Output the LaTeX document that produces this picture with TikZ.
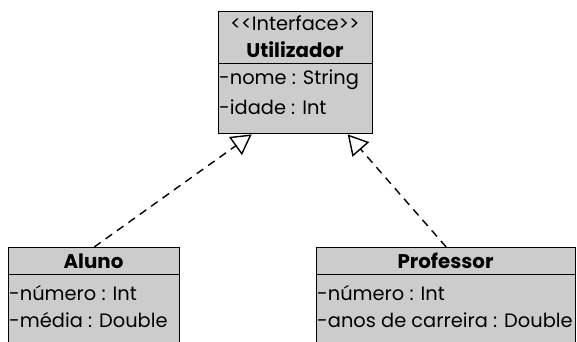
\documentclass[tikz,border=0pt]{standalone}
\usepackage{fontspec}
\setmainfont{Poppins}
\usetikzlibrary{arrows.meta}

\tikzset{
  classbox/.style={draw=black, line width=1.4pt, fill=boxgray, anchor=north west,
    inner sep=0pt, minimum width=#1},
  headtext/.style={font=\fontsize{19.8}{22}\selectfont\bfseries, inner sep=0pt},
  stereo/.style={font=\fontsize{19.4}{22}\selectfont, inner sep=0pt},
  attr/.style={font=\fontsize{19.4}{22}\selectfont, inner sep=0pt, anchor=west},
  realizes/.style={line width=1.4pt, dash pattern=on 8pt off 6pt,
    -{Triangle[open, length=20pt, width=22pt, line width=1.4pt]}},
}
\definecolor{boxgray}{HTML}{CCCCCC}

\begin{document}
\begin{tikzpicture}[x=1pt, y=-1pt]
  \useasboundingbox (0,0) rectangle (577,341);
  \clip (0,0) rectangle (577,341);

  % interface Utilizador
  \node[classbox=154pt, minimum height=52pt] (ifacehead) at (218,11) {};
  \node[classbox=154pt, minimum height=70pt] (ifacebody) at (218,63) {};
  \node[stereo] (ifacestereo) at (295,23) {{<}{<}Interface{>}{>}};
  \node[headtext] (ifacename) at (295,50) {Utilizador};
  \node[attr] (ifacea1) at (219,80) {-nome : String};
  \node[attr] (ifacea2) at (219,107) {-idade : Int};

  % class Aluno
  \node[classbox=171pt, minimum height=27pt] (alunohead) at (8,247) {};
  \node[classbox=171pt, minimum height=90pt] (alunobody) at (8,274) {};
  \node[headtext] (alunoname) at (93.5,261) {Aluno};
  \node[attr] (alunoa1) at (9,293) {-número : Int};
  \node[attr] (alunoa2) at (9,320) {-média : Double};

  % class Professor
  \node[classbox=259pt, minimum height=27pt] (profhead) at (316,247) {};
  \node[classbox=259pt, minimum height=90pt] (profbody) at (316,274) {};
  \node[headtext] (profname) at (445.5,261) {Professor};
  \node[attr] (profa1) at (317,293) {-número : Int};
  \node[attr] (profa2) at (317,320) {-anos de carreira : Double};

  % realization arrows
  \draw[realizes] (alunohead.north) -- ([xshift=-44pt]ifacebody.south);
  \draw[realizes] (profhead.north) -- ([xshift=52pt]ifacebody.south);
\end{tikzpicture}
\end{document}
